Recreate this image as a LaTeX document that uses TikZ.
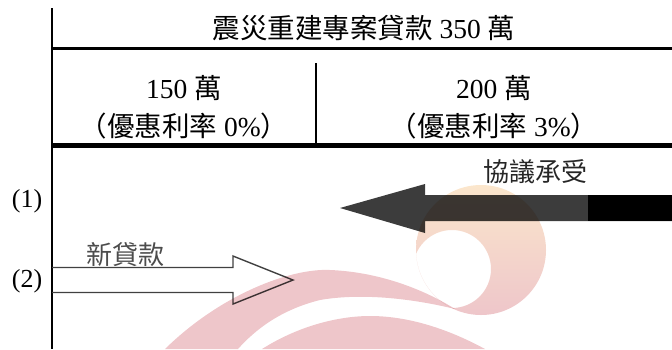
\documentclass[tikz,border=0pt]{standalone}
\usepackage{fontspec}
\setmainfont{Liberation Serif}
\newfontfamily\cjk{Noto Sans CJK TC}
\usepackage{tikz}
\definecolor{wmpink}{RGB}{238,198,202}
\definecolor{wmpeach}{RGB}{251,230,204}
\definecolor{arrowgray}{RGB}{60,60,60}
\tikzstyle{cell}=[font=\fontsize{27.5}{30}\selectfont,inner sep=0pt]
\tikzstyle{rowlabel}=[font=\fontsize{26}{30}\selectfont,inner sep=0pt]
\tikzstyle{note}=[font=\cjk\fontsize{26}{30}\selectfont,inner sep=0pt]
\tikzstyle{rule}=[draw,line width=2.3pt]

\begin{document}
\begin{tikzpicture}[x=1pt,y=-1pt]
      \useasboundingbox (0,0) rectangle (672,349);

      \path[rule] (52,8) -- (52,349);
      \path[rule] (52,48.5) -- (672,48.5);
      \path[rule] (316,63) -- (316,145);
      \path[draw,line width=5pt] (52,145.5) -- (672,145.5);

      \node[cell] (title) at (364,28) {{\cjk 震災重建專案貸款} 350 {\cjk 萬}};
      \foreach \x/\amt/\rate/\id in {184/150/0/left,494/200/3/right}{
        \node[cell] (\id amt) at (\x,88) {\amt\ {\cjk 萬}};
        \node[cell] (\id rate) at (\x,126) {{\cjk （優惠利率}\ \rate\%{\cjk ）}};
      }
      \foreach \y/\id in {201/1,281/2}{
        \node[rowlabel] (row\id) at (27,\y) {(\id)};
      }

      \fill[arrowgray] (340,208) -- (425,184) -- (425,195) -- (672,195)
        -- (672,221) -- (425,221) -- (425,233) -- cycle;
      \fill[black] (588,195) rectangle (672,221);
      \node[note,text=black!85] (assume) at (535,172) {協議承受};

      \draw[black!75,line width=1.4pt,line join=miter] (52,267.5) -- (233,267.5)
        -- (233,256) -- (293,280) -- (233,304) -- (233,292.5) -- (52,292.5);
      \node[note,text=black!70] (newloan) at (125,255) {新貸款};

      \begin{scope}[blend mode=multiply]
        \begin{scope}
          \clip (481,250) circle (65);
          \shade[top color=wmpeach,middle color=wmpeach,bottom color=wmpink,even odd rule]
            (481,250) circle (65) (452,269) circle (39);
        \end{scope}
        \fill[wmpink] (165,349) .. controls (220,295) and (290,268) .. (330,270)
          .. controls (380,272) and (425,290) .. (455,309)
          .. controls (410,298) and (360,293) .. (320,300)
          .. controls (280,310) and (255,330) .. (238,349) -- cycle;
        \fill[wmpink] (262,349) .. controls (300,325) and (340,316) .. (370,316)
          .. controls (410,316) and (450,330) .. (485,349) -- cycle;
      \end{scope}
\end{tikzpicture}
\end{document}
